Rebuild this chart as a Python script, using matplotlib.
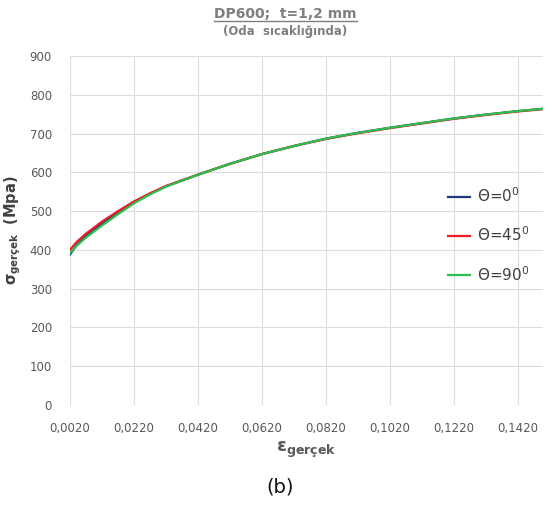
import numpy as np
import matplotlib
matplotlib.use('Agg')
from matplotlib import pyplot as plt
from matplotlib.lines import Line2D

plt.rcParams['font.family'] = ['DejaVu Sans']
plt.rcParams['mathtext.fontset'] = 'dejavusans'

# true strain points
eps = [0.002, 0.004, 0.007, 0.012, 0.017, 0.022, 0.027, 0.032, 0.042, 0.052,
       0.062, 0.072, 0.082, 0.092, 0.102, 0.112, 0.122, 0.132, 0.142, 0.150]
sig_0 = [388, 412, 437, 468, 497, 523, 545, 564, 594, 622,
         647, 668, 687, 702, 715, 727, 739, 749, 758, 764]
sig_45 = [400, 420, 442, 473, 500, 525, 546, 565, 594, 622,
          647, 668, 686, 701, 714, 726, 738, 748, 757, 763]
sig_90 = [392, 410, 432, 463, 492, 520, 543, 563, 594, 622,
          647, 668, 687, 702, 715, 727, 739, 749, 758, 764]
labels = ['Θ=0$^{0}$', 'Θ=45$^{0}$', 'Θ=90$^{0}$']
colors = ['#1f3a7a', '#ee1c25', '#2dbe4e']
xticks = [0.002 + 0.02 * k for k in range(8)]

fig = plt.figure(figsize=(5.6, 5.05), dpi=100)
ax = fig.add_axes([0.125, 0.198, 0.845, 0.691])

for s, lab, c in zip([sig_0, sig_45, sig_90], labels, colors):
    ax.plot(eps, s, color=c, lw=1.6, label=lab)

ax.set_xlim(0.002, 0.150)
ax.set_ylim(0, 900)
ax.set_xticks(xticks)
ax.set_xticklabels([('%.4f' % v).replace('.', ',') for v in xticks])
ax.set_yticks(range(0, 901, 100))
ax.grid(True, color='#dcdcdc', lw=0.8)
ax.set_axisbelow(True)
for sp in ax.spines.values():
    sp.set_visible(False)
ax.tick_params(length=0, labelsize=8.5, labelcolor='#595959')
ax.tick_params(axis='x', pad=12)
ax.tick_params(axis='y', pad=13)

ax.set_xlabel(r'$\mathbf{\varepsilon_{gerçek}}$', fontsize=13, color='#595959',
              labelpad=4)
ax.set_ylabel(r'$\mathbf{\sigma_{gerçek}}$  $\mathbf{(Mpa)}$', fontsize=10.5,
              color='#404040')
ax.yaxis.set_label_coords(-0.1, 0.5)

leg = ax.legend(loc='center left', bbox_to_anchor=(0.77, 0.487), frameon=False,
                fontsize=11, labelspacing=1.35, handlelength=1.4,
                handletextpad=0.5)
for t in leg.get_texts():
    t.set_color('#404040')

title = fig.text(0.51, 0.972, 'DP600;  t=1,2 mm', ha='center', va='center',
                 fontsize=10, fontweight='bold', color='#7f7f7f')
fig.text(0.51, 0.938, '(Oda  sıcaklığında)', ha='center', va='center',
         fontsize=8.5, fontweight='bold', color='#7f7f7f')
fig.text(0.5, 0.036, '(b)', ha='center', va='center', fontsize=14,
         color='#111111')

# underline the title
fig.canvas.draw()
bb = title.get_window_extent().transformed(fig.transFigure.inverted())
fig.add_artist(Line2D([bb.x0, bb.x1], [bb.y0 + 0.001, bb.y0 + 0.001],
                      transform=fig.transFigure, color='#7f7f7f', lw=1.0))

plt.savefig('out.png', dpi=100)
